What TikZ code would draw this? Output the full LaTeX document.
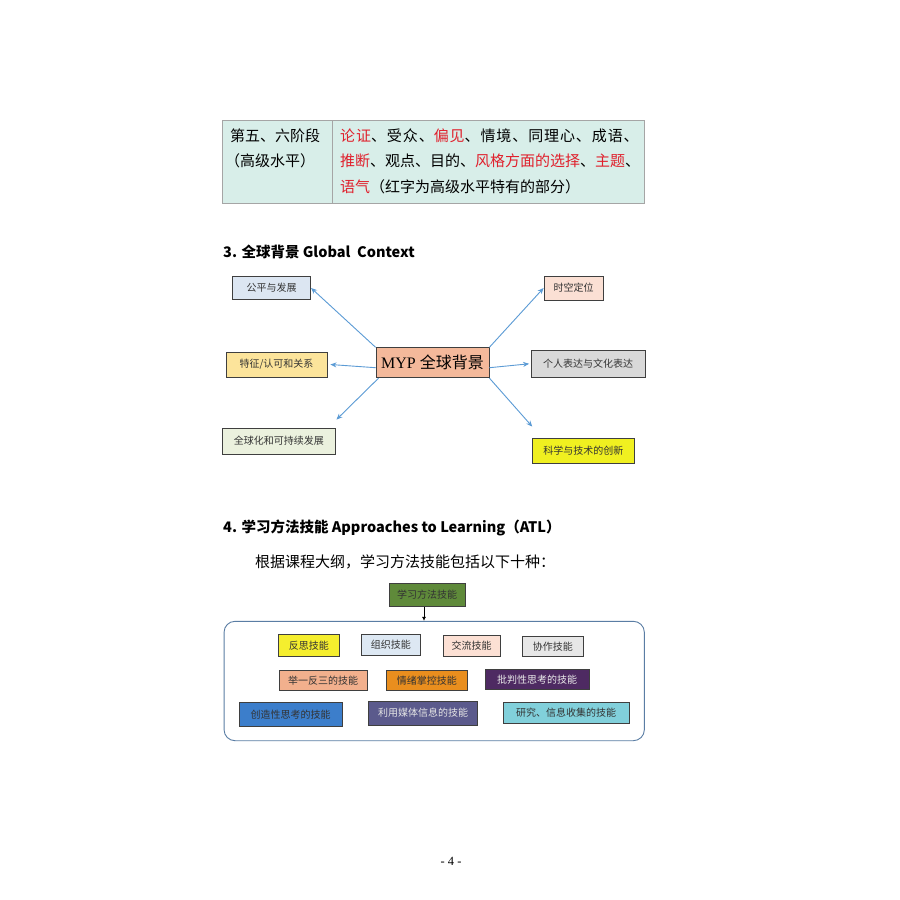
\documentclass[tikz,border=0pt]{standalone}
\usepackage{fontspec}
\setmainfont{Liberation Serif}
\newfontfamily\cjk{Noto Sans CJK SC}
\usetikzlibrary{arrows.meta}
\definecolor{tblfill}{HTML}{D8EEE9}
\definecolor{tblline}{HTML}{A5A5A5}
\definecolor{redtxt}{HTML}{E0202C}
\definecolor{arrblue}{HTML}{5B9BD5}
\definecolor{boxline}{HTML}{3F3F3F}
\definecolor{cgp}{HTML}{DCE6F2}
\definecolor{csk}{HTML}{FBE0D4}
\definecolor{cmyp}{HTML}{F4B99B}
\definecolor{ctz}{HTML}{FCE49B}
\definecolor{cgr}{HTML}{D9D9D9}
\definecolor{cqh}{HTML}{EBF1DE}
\definecolor{ckx}{HTML}{F0F020}
\definecolor{catl}{HTML}{5F8A3A}
\definecolor{ccont}{HTML}{5A7DA4}
\definecolor{cfs}{HTML}{F5EE2E}
\definecolor{czz}{HTML}{DDE8F3}
\definecolor{cjl}{HTML}{FCE0D4}
\definecolor{cxz}{HTML}{E7E7E7}
\definecolor{cjy}{HTML}{F2B08D}
\definecolor{cqx}{HTML}{E98E1E}
\definecolor{cpp}{HTML}{4E2A62}
\definecolor{ccz}{HTML}{3C7ECB}
\definecolor{cly}{HTML}{5B5A8C}
\definecolor{cyj}{HTML}{81D0DB}
\newcommand{\rt}[1]{\textcolor{redtxt}{#1}}
\begin{document}
\begin{tikzpicture}[x=1pt,y=-1pt,
  bx/.style={draw=boxline, line width=0.8pt, inner sep=0pt, font=\cjk\fontsize{10}{12}\selectfont, text=black!80},
  txt/.style={inner sep=0pt, anchor=west, font=\cjk\fontsize{15}{18}\selectfont},
  head/.style={inner sep=0pt, anchor=west, font=\cjk\bfseries\fontsize{14.5}{18}\selectfont},
  barr/.style={draw=arrblue, line width=0.9pt, -{Stealth[length=6pt,width=5pt]}}]
\useasboundingbox (0,0) rectangle (900,900);
\fill[white] (0,0) rectangle (900,900);
% table
\draw[fill=tblfill, draw=tblline, line width=0.8pt] (222,120) rectangle (644,203);
\draw[draw=tblline, line width=0.8pt] (332,120) -- (332,203);
\node[txt] (t1) at (230,136) {第五、六阶段};
\node[txt] (t2) at (225,161) {（高级水平）};
\node[txt] (t3) at (340,136) {\addfontfeatures{LetterSpace=6}\rt{论证}、受众、\rt{偏见}、情境、同理心、成语、};
\node[txt] (t4) at (340,161) {\rt{推断}、观点、目的、\rt{风格方面的选择}、\rt{主题}、};
\node[txt] (t5) at (340,187) {\rt{语气}（红字为高级水平特有的部分）};
% heading 3
\node[head] (h3) at (223,252) {3. 全球背景 Global\ \ Context};
\node[bx, fill=cgp, minimum width=78, minimum height=22.6] (gp) at (271.7,288) {公平与发展};
\node[bx, fill=csk, minimum width=59, minimum height=24] (sk) at (573.5,288) {时空定位};
\node[bx, fill=cmyp, minimum width=113, minimum height=30, font=\fontsize{16}{18}\selectfont, text=black] (myp) at (432.5,362.7) {MYP {\cjk 全球背景}};
\node[bx, fill=ctz, minimum width=101, minimum height=25] (tz) at (276.5,364.5) {特征/认可和关系};
\node[bx, fill=cgr, minimum width=114, minimum height=26.3] (gr) at (588,363.8) {个人表达与文化表达};
\node[bx, fill=cqh, minimum width=112.3, minimum height=26] (qh) at (278.9,441) {全球化和可持续发展};
\node[bx, fill=ckx, minimum width=101.3, minimum height=25] (kx) at (583.3,450.5) {科学与技术的创新};
\draw[barr] (myp.north west) -- (gp.east);
\draw[barr] ([yshift=-5pt]myp.west) -- ([xshift=3pt]tz.east);
\draw[barr] ([xshift=3pt]myp.south west) -- ([shift={(1pt,8pt)}]qh.north east);
\draw[barr] (myp.north east) -- (sk.west);
\draw[barr] ([yshift=-5pt]myp.east) -- ([xshift=-1.5pt]gr.west);
\draw[barr] (myp.south east) -- ([yshift=11pt]kx.north west);
% heading 4
\node[head] (h4) at (223,528) {4. 学习方法技能 Approaches\ to\ Learning（ATL）};
\node[txt] (sub) at (255,562) {根据课程大纲，学习方法技能包括以下十种：};
\node[bx, fill=catl, minimum width=76, minimum height=23.4] (atl) at (427,595) {学习方法技能};
\node[draw=ccont, line width=0.9pt, rounded corners=11pt, minimum width=420.3, minimum height=119.4, inner sep=0pt] (cont) at (434.2,681) {};
\draw[line width=0.7pt, -{Latex[length=4pt,width=4pt]}] ([xshift=-3pt]atl.south) -- ([xshift=-3pt]atl.south |- cont.north);
\node[bx, fill=cfs, minimum width=61, minimum height=21.7] (fs) at (308.8,645.2) {反思技能};
\node[bx, fill=czz, minimum width=58.3, minimum height=21] (zz) at (390.8,644.5) {组织技能};
\node[bx, fill=cjl, minimum width=56.7, minimum height=20.3] (jl) at (471.7,645.8) {交流技能};
\node[bx, fill=cxz, minimum width=61, minimum height=20.7] (xz) at (552.8,646.3) {协作技能};
\node[bx, fill=cjy, minimum width=88.3, minimum height=20.7] (jy) at (323.2,680.3) {举一反三的技能};
\node[bx, fill=cqx, minimum width=81.7, minimum height=20.7] (qx) at (426.8,680.3) {情绪掌控技能};
\node[bx, fill=cpp, minimum width=103.7, minimum height=20, text=white!92!black] (pp) at (537.2,679.3) {批判性思考的技能};
\node[bx, fill=ccz, minimum width=103.3, minimum height=24] (cz) at (290.7,714.7) {创造性思考的技能};
\node[bx, fill=cly, minimum width=109.4, minimum height=24, text=white!90!black] (ly) at (423,713) {利用媒体信息的技能};
\node[bx, fill=cyj, minimum width=125.7, minimum height=20.6] (yj) at (566.2,713) {研究、信息收集的技能};
% page number
\node[inner sep=0pt, font=\fontsize{12.5}{14}\selectfont] (pn) at (451,861) {-\ 4\ -};
\end{tikzpicture}
\end{document}
